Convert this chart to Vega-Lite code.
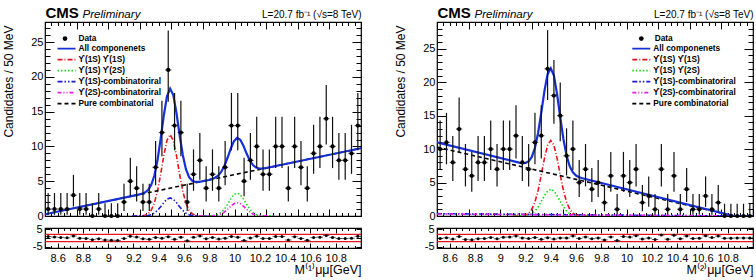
{
  "$schema": "https://vega.github.io/schema/vega-lite/v6.json",
  "padding": {"left": 1, "top": 4, "right": 0, "bottom": 0},
  "background": "white",
  "config": {
    "font": "Liberation Sans",
    "view": {"stroke": "black", "strokeWidth": 1.2},
    "axis": {"domain": false, "grid": false, "tickColor": "black", "tickWidth": 1, "labelFont": "Liberation Sans", "titleFont": "Liberation Sans", "labelColor": "black", "titleColor": "black", "titleFontWeight": "normal", "labelFontSize": 11},
    "legend": {"labelFont": "Liberation Sans", "labelColor": "black"}
  },
  "datasets": {
    "binsL": [
      {"m": 8.525, "n": 1, "lo": 0.17, "hi": 3.3, "p": 0.78},
      {"m": 8.575, "n": 1, "lo": 0.17, "hi": 3.3, "p": 0.55},
      {"m": 8.625, "n": 1, "lo": 0.17, "hi": 3.3, "p": 0.33},
      {"m": 8.675, "n": 1, "lo": 0.17, "hi": 3.3, "p": 0.1},
      {"m": 8.725, "n": 3, "lo": 1.37, "hi": 5.92, "p": 1.16},
      {"m": 8.775, "n": 1, "lo": 0.17, "hi": 3.3, "p": -0.13},
      {"m": 8.825, "n": 1, "lo": 0.17, "hi": 3.3, "p": -0.21},
      {"m": 8.875, "n": 0, "lo": 0, "hi": 1.84, "p": -0.91},
      {"m": 8.925, "n": 1, "lo": 0.17, "hi": 3.3, "p": -0.38},
      {"m": 8.975, "n": 0, "lo": 0, "hi": 1.84, "p": -1.12},
      {"m": 9.025, "n": 0, "lo": 0, "hi": 1.84, "p": -1.22},
      {"m": 9.075, "n": 0, "lo": 0, "hi": 1.84, "p": -1.33},
      {"m": 9.125, "n": 2, "lo": 0.71, "hi": 4.64, "p": -0.24},
      {"m": 9.175, "n": 5, "lo": 2.84, "hi": 8.38, "p": 1.01},
      {"m": 9.225, "n": 4, "lo": 2.09, "hi": 7.16, "p": 0.52},
      {"m": 9.275, "n": 2, "lo": 0.71, "hi": 4.64, "p": -0.45},
      {"m": 9.325, "n": 2, "lo": 0.71, "hi": 4.64, "p": -0.74},
      {"m": 9.375, "n": 7, "lo": 4.42, "hi": 10.77, "p": 0.27},
      {"m": 9.425, "n": 12, "lo": 8.58, "hi": 16.56, "p": -0.09},
      {"m": 9.475, "n": 21, "lo": 16.44, "hi": 26.66, "p": 0.68},
      {"m": 9.525, "n": 13, "lo": 9.44, "hi": 17.7, "p": -0.74},
      {"m": 9.575, "n": 12, "lo": 8.58, "hi": 16.56, "p": 0.47},
      {"m": 9.625, "n": 2, "lo": 0.71, "hi": 4.64, "p": -1.59},
      {"m": 9.675, "n": 6, "lo": 3.62, "hi": 9.58, "p": 0.42},
      {"m": 9.725, "n": 8, "lo": 5.23, "hi": 11.95, "p": 1.12},
      {"m": 9.775, "n": 4, "lo": 2.09, "hi": 7.16, "p": -0.35},
      {"m": 9.825, "n": 6, "lo": 3.62, "hi": 9.58, "p": 0.27},
      {"m": 9.875, "n": 4, "lo": 2.09, "hi": 7.16, "p": -0.6},
      {"m": 9.925, "n": 7, "lo": 4.42, "hi": 10.77, "p": -0.13},
      {"m": 9.975, "n": 13, "lo": 9.44, "hi": 17.7, "p": 0.86},
      {"m": 10.025, "n": 13, "lo": 9.44, "hi": 17.7, "p": 0.49},
      {"m": 10.075, "n": 5, "lo": 2.84, "hi": 8.38, "p": -1.45},
      {"m": 10.125, "n": 8, "lo": 5.23, "hi": 11.95, "p": 0.07},
      {"m": 10.175, "n": 10, "lo": 6.89, "hi": 14.27, "p": 1.0},
      {"m": 10.225, "n": 6, "lo": 3.62, "hi": 9.58, "p": -0.23},
      {"m": 10.275, "n": 6, "lo": 3.62, "hi": 9.58, "p": -0.28},
      {"m": 10.325, "n": 10, "lo": 6.89, "hi": 14.27, "p": 0.9},
      {"m": 10.375, "n": 10, "lo": 6.89, "hi": 14.27, "p": 0.84},
      {"m": 10.425, "n": 4, "lo": 2.09, "hi": 7.16, "p": -1.13},
      {"m": 10.475, "n": 10, "lo": 6.89, "hi": 14.27, "p": 0.72},
      {"m": 10.525, "n": 7, "lo": 4.42, "hi": 10.77, "p": -0.25},
      {"m": 10.575, "n": 4, "lo": 2.09, "hi": 7.16, "p": -1.31},
      {"m": 10.625, "n": 9, "lo": 6.06, "hi": 13.11, "p": 0.23},
      {"m": 10.675, "n": 10, "lo": 6.89, "hi": 14.27, "p": 0.48},
      {"m": 10.725, "n": 14, "lo": 10.3, "hi": 18.83, "p": 1.43},
      {"m": 10.775, "n": 10, "lo": 6.89, "hi": 14.27, "p": 0.35},
      {"m": 10.825, "n": 8, "lo": 5.23, "hi": 11.95, "p": -0.28},
      {"m": 10.875, "n": 8, "lo": 5.23, "hi": 11.95, "p": -0.32},
      {"m": 10.925, "n": 9, "lo": 6.06, "hi": 13.11, "p": -0.11},
      {"m": 10.975, "n": 13, "lo": 9.44, "hi": 17.7, "p": 0.94}
    ],
    "binsR": [
      {"m": 8.525, "n": 10, "lo": 6.89, "hi": 14.27, "p": -0.21},
      {"m": 8.575, "n": 11, "lo": 7.73, "hi": 15.42, "p": 0.11},
      {"m": 8.625, "n": 8, "lo": 5.23, "hi": 11.95, "p": -0.61},
      {"m": 8.675, "n": 13, "lo": 9.44, "hi": 17.7, "p": 0.79},
      {"m": 8.725, "n": 7, "lo": 4.42, "hi": 10.77, "p": -0.78},
      {"m": 8.775, "n": 6, "lo": 3.62, "hi": 9.58, "p": -1.04},
      {"m": 8.825, "n": 8, "lo": 5.23, "hi": 11.95, "p": -0.37},
      {"m": 8.875, "n": 8, "lo": 5.23, "hi": 11.95, "p": -0.32},
      {"m": 8.925, "n": 10, "lo": 6.89, "hi": 14.27, "p": 0.32},
      {"m": 8.975, "n": 7, "lo": 4.42, "hi": 10.77, "p": -0.47},
      {"m": 9.025, "n": 10, "lo": 6.89, "hi": 14.27, "p": 0.47},
      {"m": 9.075, "n": 10, "lo": 6.89, "hi": 14.27, "p": 0.54},
      {"m": 9.125, "n": 12, "lo": 8.58, "hi": 16.56, "p": 1.15},
      {"m": 9.175, "n": 8, "lo": 5.23, "hi": 11.95, "p": 0.04},
      {"m": 9.225, "n": 7, "lo": 4.42, "hi": 10.77, "p": -0.31},
      {"m": 9.275, "n": 11, "lo": 7.73, "hi": 15.42, "p": 0.24},
      {"m": 9.325, "n": 12, "lo": 8.58, "hi": 16.56, "p": -0.76},
      {"m": 9.375, "n": 22, "lo": 17.34, "hi": 27.77, "p": 0.17},
      {"m": 9.425, "n": 18, "lo": 13.79, "hi": 23.33, "p": -0.56},
      {"m": 9.475, "n": 15, "lo": 11.17, "hi": 19.96, "p": 0.06},
      {"m": 9.525, "n": 9, "lo": 6.06, "hi": 13.11, "p": -0.01},
      {"m": 9.575, "n": 10, "lo": 6.89, "hi": 14.27, "p": 1.12},
      {"m": 9.625, "n": 5, "lo": 2.84, "hi": 8.38, "p": -0.23},
      {"m": 9.675, "n": 7, "lo": 4.42, "hi": 10.77, "p": 0.58},
      {"m": 9.725, "n": 4, "lo": 2.09, "hi": 7.16, "p": -0.4},
      {"m": 9.775, "n": 5, "lo": 2.84, "hi": 8.38, "p": -0.01},
      {"m": 9.825, "n": 2, "lo": 0.71, "hi": 4.64, "p": -1.06},
      {"m": 9.875, "n": 6, "lo": 3.62, "hi": 9.58, "p": 0.61},
      {"m": 9.925, "n": 1, "lo": 0.17, "hi": 3.3, "p": -1.45},
      {"m": 9.975, "n": 6, "lo": 3.62, "hi": 9.58, "p": 0.8},
      {"m": 10.025, "n": 5, "lo": 2.84, "hi": 8.38, "p": 0.53},
      {"m": 10.075, "n": 7, "lo": 4.42, "hi": 10.77, "p": 1.31},
      {"m": 10.125, "n": 2, "lo": 0.71, "hi": 4.64, "p": -0.53},
      {"m": 10.175, "n": 3, "lo": 1.37, "hi": 5.92, "p": -0.05},
      {"m": 10.225, "n": 1, "lo": 0.17, "hi": 3.3, "p": -0.84},
      {"m": 10.275, "n": 7, "lo": 4.42, "hi": 10.77, "p": 1.67},
      {"m": 10.325, "n": 1, "lo": 0.17, "hi": 3.3, "p": -0.63},
      {"m": 10.375, "n": 6, "lo": 3.62, "hi": 9.58, "p": 1.59},
      {"m": 10.425, "n": 1, "lo": 0.17, "hi": 3.3, "p": -0.43},
      {"m": 10.475, "n": 4, "lo": 2.09, "hi": 7.16, "p": 1.17},
      {"m": 10.525, "n": 1, "lo": 0.17, "hi": 3.3, "p": -0.23},
      {"m": 10.575, "n": 1, "lo": 0.17, "hi": 3.3, "p": -0.13},
      {"m": 10.625, "n": 3, "lo": 1.37, "hi": 5.92, "p": 1.2},
      {"m": 10.675, "n": 1, "lo": 0.17, "hi": 3.3, "p": 0.22},
      {"m": 10.725, "n": 2, "lo": 0.71, "hi": 4.64, "p": 1.09},
      {"m": 10.775, "n": 0, "lo": 0, "hi": 1.84, "p": -0.19},
      {"m": 10.825, "n": 0, "lo": 0, "hi": 1.84, "p": -0.07},
      {"m": 10.875, "n": 0, "lo": 0, "hi": 1.84, "p": 0},
      {"m": 10.925, "n": 0, "lo": 0, "hi": 1.84, "p": 0},
      {"m": 10.975, "n": 0, "lo": 0, "hi": 1.84, "p": 0}
    ],
    "curvesL": [
      {"comp": "All componenets", "m": 8.5, "v": 0.25},
      {"comp": "All componenets", "m": 9.24, "v": 3.07},
      {"comp": "All componenets", "m": 9.265, "v": 3.2},
      {"comp": "All componenets", "m": 9.29, "v": 3.38},
      {"comp": "All componenets", "m": 9.315, "v": 3.74},
      {"comp": "All componenets", "m": 9.34, "v": 4.44},
      {"comp": "All componenets", "m": 9.365, "v": 5.79},
      {"comp": "All componenets", "m": 9.39, "v": 8.01},
      {"comp": "All componenets", "m": 9.415, "v": 11.08},
      {"comp": "All componenets", "m": 9.44, "v": 14.46},
      {"comp": "All componenets", "m": 9.465, "v": 17.2},
      {"comp": "All componenets", "m": 9.49, "v": 18.31},
      {"comp": "All componenets", "m": 9.515, "v": 17.39},
      {"comp": "All componenets", "m": 9.54, "v": 14.84},
      {"comp": "All componenets", "m": 9.565, "v": 11.65},
      {"comp": "All componenets", "m": 9.59, "v": 8.77},
      {"comp": "All componenets", "m": 9.615, "v": 6.74},
      {"comp": "All componenets", "m": 9.64, "v": 5.58},
      {"comp": "All componenets", "m": 9.665, "v": 5.07},
      {"comp": "All componenets", "m": 9.69, "v": 4.9},
      {"comp": "All componenets", "m": 9.715, "v": 4.91},
      {"comp": "All componenets", "m": 9.74, "v": 4.97},
      {"comp": "All componenets", "m": 9.77, "v": 5.08},
      {"comp": "All componenets", "m": 9.795, "v": 5.18},
      {"comp": "All componenets", "m": 9.82, "v": 5.32},
      {"comp": "All componenets", "m": 9.845, "v": 5.5},
      {"comp": "All componenets", "m": 9.87, "v": 5.82},
      {"comp": "All componenets", "m": 9.895, "v": 6.37},
      {"comp": "All componenets", "m": 9.92, "v": 7.24},
      {"comp": "All componenets", "m": 9.945, "v": 8.41},
      {"comp": "All componenets", "m": 9.97, "v": 9.71},
      {"comp": "All componenets", "m": 9.995, "v": 10.76},
      {"comp": "All componenets", "m": 10.02, "v": 11.23},
      {"comp": "All componenets", "m": 10.045, "v": 10.95},
      {"comp": "All componenets", "m": 10.07, "v": 10.09},
      {"comp": "All componenets", "m": 10.095, "v": 8.98},
      {"comp": "All componenets", "m": 10.12, "v": 8.0},
      {"comp": "All componenets", "m": 10.145, "v": 7.32},
      {"comp": "All componenets", "m": 10.17, "v": 6.96},
      {"comp": "All componenets", "m": 10.195, "v": 6.83},
      {"comp": "All componenets", "m": 10.22, "v": 6.84},
      {"comp": "All componenets", "m": 10.245, "v": 6.89},
      {"comp": "All componenets", "m": 10.27, "v": 6.98},
      {"comp": "All componenets", "m": 11.0, "v": 9.75},
      {"comp": "ϒ(1S) ϒ(1S)", "m": 9.19, "v": 0},
      {"comp": "ϒ(1S) ϒ(1S)", "m": 9.24, "v": 0.01},
      {"comp": "ϒ(1S) ϒ(1S)", "m": 9.265, "v": 0.03},
      {"comp": "ϒ(1S) ϒ(1S)", "m": 9.29, "v": 0.1},
      {"comp": "ϒ(1S) ϒ(1S)", "m": 9.315, "v": 0.32},
      {"comp": "ϒ(1S) ϒ(1S)", "m": 9.34, "v": 0.82},
      {"comp": "ϒ(1S) ϒ(1S)", "m": 9.365, "v": 1.84},
      {"comp": "ϒ(1S) ϒ(1S)", "m": 9.39, "v": 3.58},
      {"comp": "ϒ(1S) ϒ(1S)", "m": 9.415, "v": 6.01},
      {"comp": "ϒ(1S) ϒ(1S)", "m": 9.44, "v": 8.7},
      {"comp": "ϒ(1S) ϒ(1S)", "m": 9.465, "v": 10.87},
      {"comp": "ϒ(1S) ϒ(1S)", "m": 9.49, "v": 11.7},
      {"comp": "ϒ(1S) ϒ(1S)", "m": 9.515, "v": 10.87},
      {"comp": "ϒ(1S) ϒ(1S)", "m": 9.54, "v": 8.7},
      {"comp": "ϒ(1S) ϒ(1S)", "m": 9.565, "v": 6.01},
      {"comp": "ϒ(1S) ϒ(1S)", "m": 9.59, "v": 3.58},
      {"comp": "ϒ(1S) ϒ(1S)", "m": 9.615, "v": 1.84},
      {"comp": "ϒ(1S) ϒ(1S)", "m": 9.64, "v": 0.82},
      {"comp": "ϒ(1S) ϒ(1S)", "m": 9.665, "v": 0.32},
      {"comp": "ϒ(1S) ϒ(1S)", "m": 9.69, "v": 0.1},
      {"comp": "ϒ(1S) ϒ(1S)", "m": 9.715, "v": 0.03},
      {"comp": "ϒ(1S) ϒ(1S)", "m": 9.74, "v": 0.01},
      {"comp": "ϒ(1S) ϒ(1S)", "m": 9.79, "v": 0},
      {"comp": "ϒ(1S)-combinatoriral", "m": 9.19, "v": 0},
      {"comp": "ϒ(1S)-combinatoriral", "m": 9.265, "v": 0.01},
      {"comp": "ϒ(1S)-combinatoriral", "m": 9.29, "v": 0.02},
      {"comp": "ϒ(1S)-combinatoriral", "m": 9.315, "v": 0.07},
      {"comp": "ϒ(1S)-combinatoriral", "m": 9.34, "v": 0.18},
      {"comp": "ϒ(1S)-combinatoriral", "m": 9.365, "v": 0.41},
      {"comp": "ϒ(1S)-combinatoriral", "m": 9.39, "v": 0.8},
      {"comp": "ϒ(1S)-combinatoriral", "m": 9.415, "v": 1.34},
      {"comp": "ϒ(1S)-combinatoriral", "m": 9.44, "v": 1.93},
      {"comp": "ϒ(1S)-combinatoriral", "m": 9.465, "v": 2.42},
      {"comp": "ϒ(1S)-combinatoriral", "m": 9.49, "v": 2.6},
      {"comp": "ϒ(1S)-combinatoriral", "m": 9.515, "v": 2.42},
      {"comp": "ϒ(1S)-combinatoriral", "m": 9.54, "v": 1.93},
      {"comp": "ϒ(1S)-combinatoriral", "m": 9.565, "v": 1.34},
      {"comp": "ϒ(1S)-combinatoriral", "m": 9.59, "v": 0.8},
      {"comp": "ϒ(1S)-combinatoriral", "m": 9.615, "v": 0.41},
      {"comp": "ϒ(1S)-combinatoriral", "m": 9.64, "v": 0.18},
      {"comp": "ϒ(1S)-combinatoriral", "m": 9.665, "v": 0.07},
      {"comp": "ϒ(1S)-combinatoriral", "m": 9.69, "v": 0.02},
      {"comp": "ϒ(1S)-combinatoriral", "m": 9.715, "v": 0.01},
      {"comp": "ϒ(1S)-combinatoriral", "m": 9.79, "v": 0},
      {"comp": "ϒ(1S) ϒ(2S)", "m": 9.72, "v": 0},
      {"comp": "ϒ(1S) ϒ(2S)", "m": 9.795, "v": 0.01},
      {"comp": "ϒ(1S) ϒ(2S)", "m": 9.82, "v": 0.03},
      {"comp": "ϒ(1S) ϒ(2S)", "m": 9.845, "v": 0.09},
      {"comp": "ϒ(1S) ϒ(2S)", "m": 9.87, "v": 0.23},
      {"comp": "ϒ(1S) ϒ(2S)", "m": 9.895, "v": 0.52},
      {"comp": "ϒ(1S) ϒ(2S)", "m": 9.92, "v": 1.01},
      {"comp": "ϒ(1S) ϒ(2S)", "m": 9.945, "v": 1.7},
      {"comp": "ϒ(1S) ϒ(2S)", "m": 9.97, "v": 2.46},
      {"comp": "ϒ(1S) ϒ(2S)", "m": 9.995, "v": 3.07},
      {"comp": "ϒ(1S) ϒ(2S)", "m": 10.02, "v": 3.3},
      {"comp": "ϒ(1S) ϒ(2S)", "m": 10.045, "v": 3.07},
      {"comp": "ϒ(1S) ϒ(2S)", "m": 10.07, "v": 2.46},
      {"comp": "ϒ(1S) ϒ(2S)", "m": 10.095, "v": 1.7},
      {"comp": "ϒ(1S) ϒ(2S)", "m": 10.12, "v": 1.01},
      {"comp": "ϒ(1S) ϒ(2S)", "m": 10.145, "v": 0.52},
      {"comp": "ϒ(1S) ϒ(2S)", "m": 10.17, "v": 0.23},
      {"comp": "ϒ(1S) ϒ(2S)", "m": 10.195, "v": 0.09},
      {"comp": "ϒ(1S) ϒ(2S)", "m": 10.22, "v": 0.03},
      {"comp": "ϒ(1S) ϒ(2S)", "m": 10.245, "v": 0.01},
      {"comp": "ϒ(1S) ϒ(2S)", "m": 10.32, "v": 0},
      {"comp": "ϒ(2S)-combinatoriral", "m": 9.72, "v": 0},
      {"comp": "ϒ(2S)-combinatoriral", "m": 9.82, "v": 0.02},
      {"comp": "ϒ(2S)-combinatoriral", "m": 9.845, "v": 0.05},
      {"comp": "ϒ(2S)-combinatoriral", "m": 9.87, "v": 0.13},
      {"comp": "ϒ(2S)-combinatoriral", "m": 9.895, "v": 0.3},
      {"comp": "ϒ(2S)-combinatoriral", "m": 9.92, "v": 0.58},
      {"comp": "ϒ(2S)-combinatoriral", "m": 9.945, "v": 0.98},
      {"comp": "ϒ(2S)-combinatoriral", "m": 9.97, "v": 1.41},
      {"comp": "ϒ(2S)-combinatoriral", "m": 9.995, "v": 1.77},
      {"comp": "ϒ(2S)-combinatoriral", "m": 10.02, "v": 1.9},
      {"comp": "ϒ(2S)-combinatoriral", "m": 10.045, "v": 1.77},
      {"comp": "ϒ(2S)-combinatoriral", "m": 10.07, "v": 1.41},
      {"comp": "ϒ(2S)-combinatoriral", "m": 10.095, "v": 0.98},
      {"comp": "ϒ(2S)-combinatoriral", "m": 10.12, "v": 0.58},
      {"comp": "ϒ(2S)-combinatoriral", "m": 10.145, "v": 0.3},
      {"comp": "ϒ(2S)-combinatoriral", "m": 10.17, "v": 0.13},
      {"comp": "ϒ(2S)-combinatoriral", "m": 10.195, "v": 0.05},
      {"comp": "ϒ(2S)-combinatoriral", "m": 10.22, "v": 0.02},
      {"comp": "ϒ(2S)-combinatoriral", "m": 10.32, "v": 0},
      {"comp": "Pure combinatorial", "m": 8.5, "v": 0.25},
      {"comp": "Pure combinatorial", "m": 11.0, "v": 9.75}
    ],
    "curvesR": [
      {"comp": "All componenets", "m": 8.5, "v": 11.0},
      {"comp": "All componenets", "m": 9.15, "v": 7.98},
      {"comp": "All componenets", "m": 9.175, "v": 7.9},
      {"comp": "All componenets", "m": 9.2, "v": 7.92},
      {"comp": "All componenets", "m": 9.225, "v": 8.17},
      {"comp": "All componenets", "m": 9.25, "v": 8.83},
      {"comp": "All componenets", "m": 9.275, "v": 10.2},
      {"comp": "All componenets", "m": 9.3, "v": 12.45},
      {"comp": "All componenets", "m": 9.325, "v": 15.46},
      {"comp": "All componenets", "m": 9.35, "v": 18.69},
      {"comp": "All componenets", "m": 9.375, "v": 21.21},
      {"comp": "All componenets", "m": 9.4, "v": 22.09},
      {"comp": "All componenets", "m": 9.425, "v": 20.98},
      {"comp": "All componenets", "m": 9.45, "v": 18.22},
      {"comp": "All componenets", "m": 9.475, "v": 14.76},
      {"comp": "All componenets", "m": 9.5, "v": 11.51},
      {"comp": "All componenets", "m": 9.525, "v": 9.03},
      {"comp": "All componenets", "m": 9.55, "v": 7.43},
      {"comp": "All componenets", "m": 9.575, "v": 6.53},
      {"comp": "All componenets", "m": 9.6, "v": 6.05},
      {"comp": "All componenets", "m": 9.625, "v": 5.79},
      {"comp": "All componenets", "m": 9.65, "v": 5.64},
      {"comp": "All componenets", "m": 10.85, "v": 0},
      {"comp": "All componenets", "m": 11.0, "v": 0},
      {"comp": "ϒ(1S) ϒ(1S)", "m": 9.1, "v": 0},
      {"comp": "ϒ(1S) ϒ(1S)", "m": 9.15, "v": 0.01},
      {"comp": "ϒ(1S) ϒ(1S)", "m": 9.175, "v": 0.05},
      {"comp": "ϒ(1S) ϒ(1S)", "m": 9.2, "v": 0.15},
      {"comp": "ϒ(1S) ϒ(1S)", "m": 9.225, "v": 0.41},
      {"comp": "ϒ(1S) ϒ(1S)", "m": 9.25, "v": 0.99},
      {"comp": "ϒ(1S) ϒ(1S)", "m": 9.275, "v": 2.09},
      {"comp": "ϒ(1S) ϒ(1S)", "m": 9.3, "v": 3.83},
      {"comp": "ϒ(1S) ϒ(1S)", "m": 9.325, "v": 6.15},
      {"comp": "ϒ(1S) ϒ(1S)", "m": 9.35, "v": 8.62},
      {"comp": "ϒ(1S) ϒ(1S)", "m": 9.375, "v": 10.57},
      {"comp": "ϒ(1S) ϒ(1S)", "m": 9.4, "v": 11.3},
      {"comp": "ϒ(1S) ϒ(1S)", "m": 9.425, "v": 10.57},
      {"comp": "ϒ(1S) ϒ(1S)", "m": 9.45, "v": 8.62},
      {"comp": "ϒ(1S) ϒ(1S)", "m": 9.475, "v": 6.15},
      {"comp": "ϒ(1S) ϒ(1S)", "m": 9.5, "v": 3.83},
      {"comp": "ϒ(1S) ϒ(1S)", "m": 9.525, "v": 2.09},
      {"comp": "ϒ(1S) ϒ(1S)", "m": 9.55, "v": 0.99},
      {"comp": "ϒ(1S) ϒ(1S)", "m": 9.575, "v": 0.41},
      {"comp": "ϒ(1S) ϒ(1S)", "m": 9.6, "v": 0.15},
      {"comp": "ϒ(1S) ϒ(1S)", "m": 9.625, "v": 0.05},
      {"comp": "ϒ(1S) ϒ(1S)", "m": 9.65, "v": 0.01},
      {"comp": "ϒ(1S) ϒ(1S)", "m": 9.7, "v": 0},
      {"comp": "ϒ(1S) ϒ(2S)", "m": 9.1, "v": 0},
      {"comp": "ϒ(1S) ϒ(2S)", "m": 9.175, "v": 0.02},
      {"comp": "ϒ(1S) ϒ(2S)", "m": 9.2, "v": 0.05},
      {"comp": "ϒ(1S) ϒ(2S)", "m": 9.225, "v": 0.15},
      {"comp": "ϒ(1S) ϒ(2S)", "m": 9.25, "v": 0.35},
      {"comp": "ϒ(1S) ϒ(2S)", "m": 9.275, "v": 0.74},
      {"comp": "ϒ(1S) ϒ(2S)", "m": 9.3, "v": 1.36},
      {"comp": "ϒ(1S) ϒ(2S)", "m": 9.325, "v": 2.18},
      {"comp": "ϒ(1S) ϒ(2S)", "m": 9.35, "v": 3.05},
      {"comp": "ϒ(1S) ϒ(2S)", "m": 9.375, "v": 3.74},
      {"comp": "ϒ(1S) ϒ(2S)", "m": 9.4, "v": 4.0},
      {"comp": "ϒ(1S) ϒ(2S)", "m": 9.425, "v": 3.74},
      {"comp": "ϒ(1S) ϒ(2S)", "m": 9.45, "v": 3.05},
      {"comp": "ϒ(1S) ϒ(2S)", "m": 9.475, "v": 2.18},
      {"comp": "ϒ(1S) ϒ(2S)", "m": 9.5, "v": 1.36},
      {"comp": "ϒ(1S) ϒ(2S)", "m": 9.525, "v": 0.74},
      {"comp": "ϒ(1S) ϒ(2S)", "m": 9.55, "v": 0.35},
      {"comp": "ϒ(1S) ϒ(2S)", "m": 9.575, "v": 0.15},
      {"comp": "ϒ(1S) ϒ(2S)", "m": 9.6, "v": 0.05},
      {"comp": "ϒ(1S) ϒ(2S)", "m": 9.625, "v": 0.02},
      {"comp": "ϒ(1S) ϒ(2S)", "m": 9.7, "v": 0},
      {"comp": "ϒ(1S)-combinatoriral", "m": 8.5, "v": 0.35},
      {"comp": "ϒ(1S)-combinatoriral", "m": 10.85, "v": 0},
      {"comp": "ϒ(1S)-combinatoriral", "m": 11.0, "v": 0},
      {"comp": "ϒ(2S)-combinatoriral", "m": 8.5, "v": 0.3},
      {"comp": "ϒ(2S)-combinatoriral", "m": 10.85, "v": 0},
      {"comp": "ϒ(2S)-combinatoriral", "m": 11.0, "v": 0},
      {"comp": "Pure combinatorial", "m": 8.5, "v": 10.3},
      {"comp": "Pure combinatorial", "m": 10.85, "v": 0},
      {"comp": "Pure combinatorial", "m": 11.0, "v": 0}
    ]
  },
  "hconcat": [
    {
      "vconcat": [
        {
          "width": 316, "height": 194,
          "layer": [
            {
              "data": {"name": "curvesL"},
              "transform": [{"filter": "datum.comp !== 'All componenets'"}],
              "mark": {"type": "line", "strokeWidth": 1.6, "clip": true},
              "encoding": {
                "x": {"field": "m", "type": "quantitative", "scale": {"domain": [8.5, 11], "nice": false, "zero": false},
                  "axis": {"orient": "bottom", "values": [8.5, 8.75, 9, 9.25, 9.5, 9.75, 10, 10.25, 10.5, 10.75, 11], "tickSize": -7, "labels": false, "title": null}},
                "y": {"field": "v", "type": "quantitative", "scale": {"domain": [0, 27.9], "nice": false},
                  "axis": {"orient": "left", "values": [0, 5, 10, 15, 20, 25], "tickSize": -9, "labelPadding": 11, "labelFontSize": 11,
                    "title": "Candidates / 50 MeV", "titleFontSize": 12, "titleX": -37, "titleY": 3, "titleAngle": -90, "titleAlign": "right", "titleBaseline": "middle"}},
                "color": {"field": "comp", "type": "nominal",
                  "scale": {"domain": ["All componenets", "ϒ(1S) ϒ(1S)", "ϒ(1S) ϒ(2S)", "ϒ(1S)-combinatoriral", "ϒ(2S)-combinatoriral", "Pure combinatorial"],
                    "range": ["#1530d8", "#e8141a", "#18d818", "#1a1ad0", "#e81ae8", "#000000"]},
                  "legend": {"title": null, "orient": "none", "legendX": 11.5, "legendY": 21.6, "clipHeight": 10, "rowPadding": 1, "padding": 0,
                    "symbolType": "stroke", "symbolSize": 324, "symbolStrokeWidth": 1.6, "labelFontSize": 8.3, "labelFontWeight": "bold", "labelOffset": 2}},
                "strokeDash": {"field": "comp", "type": "nominal",
                  "scale": {"domain": ["All componenets", "ϒ(1S) ϒ(1S)", "ϒ(1S) ϒ(2S)", "ϒ(1S)-combinatoriral", "ϒ(2S)-combinatoriral", "Pure combinatorial"],
                    "range": [[1, 0], [5, 2, 1, 2], [1.5, 2], [5, 2, 1.5, 2, 1.5, 2], [4, 2, 1, 2, 1, 2], [4, 3]]},
                  "legend": {"title": null, "orient": "none", "legendX": 11.5, "legendY": 21.6, "clipHeight": 10, "rowPadding": 1, "padding": 0,
                    "symbolType": "stroke", "symbolSize": 324, "symbolStrokeWidth": 1.6, "labelFontSize": 8.3, "labelFontWeight": "bold", "labelOffset": 2}}
              }
            },
            {
              "data": {"name": "curvesL"},
              "transform": [{"filter": "datum.comp === 'All componenets'"}],
              "mark": {"type": "line", "strokeWidth": 2.2, "color": "#1530d8", "clip": true},
              "encoding": {
                "x": {"field": "m", "type": "quantitative",
                  "axis": {"orient": "bottom", "values": [8.5, 8.55, 8.6, 8.65, 8.7, 8.75, 8.8, 8.85, 8.9, 8.95, 9, 9.05, 9.1, 9.15, 9.2, 9.25, 9.3, 9.35, 9.4, 9.45, 9.5, 9.55, 9.6, 9.65, 9.7, 9.75, 9.8, 9.85, 9.9, 9.95, 10, 10.05, 10.1, 10.15, 10.2, 10.25, 10.3, 10.35, 10.4, 10.45, 10.5, 10.55, 10.6, 10.65, 10.7, 10.75, 10.8, 10.85, 10.9, 10.95, 11], "tickSize": -3.5, "labels": false, "title": null}},
                "y": {"field": "v", "type": "quantitative",
                  "axis": {"orient": "left", "values": [1, 2, 3, 4, 6, 7, 8, 9, 11, 12, 13, 14, 16, 17, 18, 19, 21, 22, 23, 24, 26, 27], "tickSize": -5, "labels": false, "title": null}}
              }
            },
            {
              "data": {"name": "binsL"},
              "mark": {"type": "rule", "color": "#111111", "strokeWidth": 1.2},
              "encoding": {
                "x": {"field": "m", "type": "quantitative",
                  "axis": {"orient": "top", "values": [8.5, 8.75, 9, 9.25, 9.5, 9.75, 10, 10.25, 10.5, 10.75, 11], "tickSize": -7, "labels": false,
                    "title": "CMS", "titleFontSize": 15, "titleFontWeight": "bold", "titleX": 0, "titleY": -5, "titleAlign": "left", "titleBaseline": "alphabetic", "titleAngle": 0}},
                "y": {"field": "lo", "type": "quantitative",
                  "axis": {"orient": "right", "values": [0, 5, 10, 15, 20, 25], "tickSize": -9, "labels": false,
                    "title": "L=20.7 fb⁻¹ (√s=8 TeV)", "titleFontSize": 10, "titleX": 0, "titleY": -5, "titleAngle": 0, "titleAlign": "right", "titleBaseline": "alphabetic"}},
                "y2": {"field": "hi"}
              }
            },
            {
              "data": {"name": "binsL"},
              "mark": {"type": "tick", "orient": "horizontal", "size": 6.3, "thickness": 1.2, "color": "#111111"},
              "encoding": {
                "x": {"field": "m", "type": "quantitative",
                  "axis": {"orient": "top", "values": [8.5, 8.55, 8.6, 8.65, 8.7, 8.75, 8.8, 8.85, 8.9, 8.95, 9, 9.05, 9.1, 9.15, 9.2, 9.25, 9.3, 9.35, 9.4, 9.45, 9.5, 9.55, 9.6, 9.65, 9.7, 9.75, 9.8, 9.85, 9.9, 9.95, 10, 10.05, 10.1, 10.15, 10.2, 10.25, 10.3, 10.35, 10.4, 10.45, 10.5, 10.55, 10.6, 10.65, 10.7, 10.75, 10.8, 10.85, 10.9, 10.95, 11], "tickSize": -3.5, "labels": false,
                    "title": "Preliminary", "titleFontSize": 11.6, "titleFontStyle": "italic", "titleX": 37, "titleY": -5, "titleAlign": "left", "titleBaseline": "alphabetic", "titleAngle": 0}},
                "y": {"field": "n", "type": "quantitative",
                  "axis": {"orient": "right", "values": [1, 2, 3, 4, 6, 7, 8, 9, 11, 12, 13, 14, 16, 17, 18, 19, 21, 22, 23, 24, 26, 27], "tickSize": -5, "labels": false, "title": null}}
              }
            },
            {
              "data": {"name": "binsL"},
              "mark": {"type": "point", "filled": true, "size": 18, "color": "black", "opacity": 1},
              "encoding": {
                "x": {"field": "m", "type": "quantitative", "axis": null},
                "y": {"field": "n", "type": "quantitative", "axis": null},
                "shape": {"datum": "Data", "type": "nominal", "scale": {"domain": ["Data"], "range": ["circle"]},
                  "legend": {"title": null, "orient": "none", "legendX": 15.85, "legendY": 11.6, "clipHeight": 10, "padding": 0,
                    "symbolSize": 22, "symbolFillColor": "black", "symbolStrokeColor": "black", "symbolStrokeWidth": 0,
                    "labelFontSize": 8.3, "labelFontWeight": "bold", "labelOffset": 9.3}}
              }
            }
          ],
          "resolve": {"axis": {"x": "independent", "y": "independent"}}
        },
        {
          "width": 316, "height": 20,
          "layer": [
            {
              "data": {"values": [{"ref": 2}]},
              "mark": {"type": "rule", "color": "#e8141a", "strokeWidth": 1.2},
              "encoding": {
                "x": {"datum": 8.5, "type": "quantitative", "scale": {"domain": [8.5, 11], "nice": false, "zero": false},
                  "axis": {"orient": "bottom", "values": [8.6, 8.8, 9, 9.2, 9.4, 9.6, 9.8, 10, 10.2, 10.4, 10.6, 10.8], "tickSize": -5, "labelPadding": 9, "labelFontSize": 11, "labelExpr": "'' + datum.value",
                    "title": "M⁽¹⁾μμ[GeV]", "titleFontSize": 12.5, "titleX": 316, "titleY": 25, "titleAlign": "right", "titleBaseline": "alphabetic", "titleAngle": 0}},
                "x2": {"datum": 11},
                "y": {"field": "ref", "type": "quantitative", "scale": {"domain": [-5.6, 5.6], "nice": false},
                  "axis": {"orient": "left", "values": [-5, 0, 5], "tickSize": -5, "labelPadding": 8, "labelFontSize": 11, "labelExpr": "'' + datum.value", "title": null}}
              }
            },
            {
              "data": {"values": [{"ref": -2}]},
              "mark": {"type": "rule", "color": "#e8141a", "strokeWidth": 1.2},
              "encoding": {
                "x": {"datum": 8.5, "type": "quantitative",
                  "axis": {"orient": "bottom", "values": [8.5, 8.55, 8.65, 8.7, 8.75, 8.85, 8.9, 8.95, 9.05, 9.1, 9.15, 9.25, 9.3, 9.35, 9.45, 9.5, 9.55, 9.65, 9.7, 9.75, 9.85, 9.9, 9.95, 10.05, 10.1, 10.15, 10.25, 10.3, 10.35, 10.45, 10.5, 10.55, 10.65, 10.7, 10.75, 10.85, 10.9, 10.95], "tickSize": -2.5, "labels": false, "title": null}},
                "x2": {"datum": 11},
                "y": {"field": "ref", "type": "quantitative",
                  "axis": {"orient": "right", "values": [-5, 0, 5], "tickSize": -5, "labels": false, "title": null}}
              }
            },
            {
              "data": {"name": "binsL"},
              "mark": {"type": "tick", "orient": "horizontal", "size": 6.3, "thickness": 1, "color": "#111111"},
              "encoding": {
                "x": {"field": "m", "type": "quantitative",
                  "axis": {"orient": "top", "values": [8.6, 8.8, 9, 9.2, 9.4, 9.6, 9.8, 10, 10.2, 10.4, 10.6, 10.8], "tickSize": -5, "labels": false, "title": null}},
                "y": {"field": "p", "type": "quantitative", "axis": null}
              }
            },
            {
              "data": {"name": "binsL"},
              "mark": {"type": "point", "filled": true, "size": 9, "color": "black", "opacity": 1},
              "encoding": {
                "x": {"field": "m", "type": "quantitative",
                  "axis": {"orient": "top", "values": [8.5, 8.55, 8.65, 8.7, 8.75, 8.85, 8.9, 8.95, 9.05, 9.1, 9.15, 9.25, 9.3, 9.35, 9.45, 9.5, 9.55, 9.65, 9.7, 9.75, 9.85, 9.9, 9.95, 10.05, 10.1, 10.15, 10.25, 10.3, 10.35, 10.45, 10.5, 10.55, 10.65, 10.7, 10.75, 10.85, 10.9, 10.95], "tickSize": -2.5, "labels": false, "title": null}},
                "y": {"field": "p", "type": "quantitative", "axis": null}
              }
            }
          ],
          "resolve": {"axis": {"x": "independent", "y": "independent"}}
        }
      ],
      "spacing": 0,
      "resolve": {"scale": {"color": "independent", "strokeDash": "independent", "shape": "independent"}}
    },
    {
      "vconcat": [
        {
          "width": 316, "height": 194,
          "layer": [
            {
              "data": {"name": "curvesR"},
              "transform": [{"filter": "datum.comp !== 'All componenets'"}],
              "mark": {"type": "line", "strokeWidth": 1.6, "clip": true},
              "encoding": {
                "x": {"field": "m", "type": "quantitative", "scale": {"domain": [8.5, 11], "nice": false, "zero": false},
                  "axis": {"orient": "bottom", "values": [8.5, 8.75, 9, 9.25, 9.5, 9.75, 10, 10.25, 10.5, 10.75, 11], "tickSize": -7, "labels": false, "title": null}},
                "y": {"field": "v", "type": "quantitative", "scale": {"domain": [0, 29], "nice": false},
                  "axis": {"orient": "left", "values": [0, 5, 10, 15, 20, 25], "tickSize": -9, "labelPadding": 11, "labelFontSize": 11,
                    "title": "Candidates / 50 MeV", "titleFontSize": 12, "titleX": -37, "titleY": 3, "titleAngle": -90, "titleAlign": "right", "titleBaseline": "middle"}},
                "color": {"field": "comp", "type": "nominal",
                  "scale": {"domain": ["All componenets", "ϒ(1S) ϒ(1S)", "ϒ(1S) ϒ(2S)", "ϒ(1S)-combinatoriral", "ϒ(2S)-combinatoriral", "Pure combinatorial"],
                    "range": ["#1530d8", "#e8141a", "#18d818", "#1a1ad0", "#e81ae8", "#000000"]},
                  "legend": {"title": null, "orient": "none", "legendX": 194.3, "legendY": 21.6, "clipHeight": 10, "rowPadding": 1, "padding": 0,
                    "symbolType": "stroke", "symbolSize": 324, "symbolStrokeWidth": 1.6, "labelFontSize": 8.3, "labelFontWeight": "bold", "labelOffset": 2}},
                "strokeDash": {"field": "comp", "type": "nominal",
                  "scale": {"domain": ["All componenets", "ϒ(1S) ϒ(1S)", "ϒ(1S) ϒ(2S)", "ϒ(1S)-combinatoriral", "ϒ(2S)-combinatoriral", "Pure combinatorial"],
                    "range": [[1, 0], [5, 2, 1, 2], [1.5, 2], [5, 2, 1.5, 2, 1.5, 2], [4, 2, 1, 2, 1, 2], [4, 3]]},
                  "legend": {"title": null, "orient": "none", "legendX": 194.3, "legendY": 21.6, "clipHeight": 10, "rowPadding": 1, "padding": 0,
                    "symbolType": "stroke", "symbolSize": 324, "symbolStrokeWidth": 1.6, "labelFontSize": 8.3, "labelFontWeight": "bold", "labelOffset": 2}}
              }
            },
            {
              "data": {"name": "curvesR"},
              "transform": [{"filter": "datum.comp === 'All componenets'"}],
              "mark": {"type": "line", "strokeWidth": 2.2, "color": "#1530d8", "clip": true},
              "encoding": {
                "x": {"field": "m", "type": "quantitative",
                  "axis": {"orient": "bottom", "values": [8.5, 8.55, 8.6, 8.65, 8.7, 8.75, 8.8, 8.85, 8.9, 8.95, 9, 9.05, 9.1, 9.15, 9.2, 9.25, 9.3, 9.35, 9.4, 9.45, 9.5, 9.55, 9.6, 9.65, 9.7, 9.75, 9.8, 9.85, 9.9, 9.95, 10, 10.05, 10.1, 10.15, 10.2, 10.25, 10.3, 10.35, 10.4, 10.45, 10.5, 10.55, 10.6, 10.65, 10.7, 10.75, 10.8, 10.85, 10.9, 10.95, 11], "tickSize": -3.5, "labels": false, "title": null}},
                "y": {"field": "v", "type": "quantitative",
                  "axis": {"orient": "left", "values": [1, 2, 3, 4, 6, 7, 8, 9, 11, 12, 13, 14, 16, 17, 18, 19, 21, 22, 23, 24, 26, 27, 28], "tickSize": -5, "labels": false, "title": null}}
              }
            },
            {
              "data": {"name": "binsR"},
              "mark": {"type": "rule", "color": "#111111", "strokeWidth": 1.2},
              "encoding": {
                "x": {"field": "m", "type": "quantitative",
                  "axis": {"orient": "top", "values": [8.5, 8.75, 9, 9.25, 9.5, 9.75, 10, 10.25, 10.5, 10.75, 11], "tickSize": -7, "labels": false,
                    "title": "CMS", "titleFontSize": 15, "titleFontWeight": "bold", "titleX": 0, "titleY": -5, "titleAlign": "left", "titleBaseline": "alphabetic", "titleAngle": 0}},
                "y": {"field": "lo", "type": "quantitative",
                  "axis": {"orient": "right", "values": [0, 5, 10, 15, 20, 25], "tickSize": -9, "labels": false,
                    "title": "L=20.7 fb⁻¹ (√s=8 TeV)", "titleFontSize": 10, "titleX": 0, "titleY": -5, "titleAngle": 0, "titleAlign": "right", "titleBaseline": "alphabetic"}},
                "y2": {"field": "hi"}
              }
            },
            {
              "data": {"name": "binsR"},
              "mark": {"type": "tick", "orient": "horizontal", "size": 6.3, "thickness": 1.2, "color": "#111111"},
              "encoding": {
                "x": {"field": "m", "type": "quantitative",
                  "axis": {"orient": "top", "values": [8.5, 8.55, 8.6, 8.65, 8.7, 8.75, 8.8, 8.85, 8.9, 8.95, 9, 9.05, 9.1, 9.15, 9.2, 9.25, 9.3, 9.35, 9.4, 9.45, 9.5, 9.55, 9.6, 9.65, 9.7, 9.75, 9.8, 9.85, 9.9, 9.95, 10, 10.05, 10.1, 10.15, 10.2, 10.25, 10.3, 10.35, 10.4, 10.45, 10.5, 10.55, 10.6, 10.65, 10.7, 10.75, 10.8, 10.85, 10.9, 10.95, 11], "tickSize": -3.5, "labels": false,
                    "title": "Preliminary", "titleFontSize": 11.6, "titleFontStyle": "italic", "titleX": 37, "titleY": -5, "titleAlign": "left", "titleBaseline": "alphabetic", "titleAngle": 0}},
                "y": {"field": "n", "type": "quantitative",
                  "axis": {"orient": "right", "values": [1, 2, 3, 4, 6, 7, 8, 9, 11, 12, 13, 14, 16, 17, 18, 19, 21, 22, 23, 24, 26, 27, 28], "tickSize": -5, "labels": false, "title": null}}
              }
            },
            {
              "data": {"name": "binsR"},
              "mark": {"type": "point", "filled": true, "size": 18, "color": "black", "opacity": 1},
              "encoding": {
                "x": {"field": "m", "type": "quantitative", "axis": null},
                "y": {"field": "n", "type": "quantitative", "axis": null},
                "shape": {"datum": "Data", "type": "nominal", "scale": {"domain": ["Data"], "range": ["circle"]},
                  "legend": {"title": null, "orient": "none", "legendX": 200.15, "legendY": 11.6, "clipHeight": 10, "padding": 0,
                    "symbolSize": 22, "symbolFillColor": "black", "symbolStrokeColor": "black", "symbolStrokeWidth": 0,
                    "labelFontSize": 8.3, "labelFontWeight": "bold", "labelOffset": 9.3}}
              }
            }
          ],
          "resolve": {"axis": {"x": "independent", "y": "independent"}}
        },
        {
          "width": 316, "height": 20,
          "layer": [
            {
              "data": {"values": [{"ref": 2}]},
              "mark": {"type": "rule", "color": "#e8141a", "strokeWidth": 1.2},
              "encoding": {
                "x": {"datum": 8.5, "type": "quantitative", "scale": {"domain": [8.5, 11], "nice": false, "zero": false},
                  "axis": {"orient": "bottom", "values": [8.6, 8.8, 9, 9.2, 9.4, 9.6, 9.8, 10, 10.2, 10.4, 10.6, 10.8], "tickSize": -5, "labelPadding": 9, "labelFontSize": 11, "labelExpr": "'' + datum.value",
                    "title": "M⁽²⁾μμ[GeV]", "titleFontSize": 12.5, "titleX": 316, "titleY": 25, "titleAlign": "right", "titleBaseline": "alphabetic", "titleAngle": 0}},
                "x2": {"datum": 11},
                "y": {"field": "ref", "type": "quantitative", "scale": {"domain": [-5.6, 5.6], "nice": false},
                  "axis": {"orient": "left", "values": [-5, 0, 5], "tickSize": -5, "labelPadding": 8, "labelFontSize": 11, "labelExpr": "'' + datum.value", "title": null}}
              }
            },
            {
              "data": {"values": [{"ref": -2}]},
              "mark": {"type": "rule", "color": "#e8141a", "strokeWidth": 1.2},
              "encoding": {
                "x": {"datum": 8.5, "type": "quantitative",
                  "axis": {"orient": "bottom", "values": [8.5, 8.55, 8.65, 8.7, 8.75, 8.85, 8.9, 8.95, 9.05, 9.1, 9.15, 9.25, 9.3, 9.35, 9.45, 9.5, 9.55, 9.65, 9.7, 9.75, 9.85, 9.9, 9.95, 10.05, 10.1, 10.15, 10.25, 10.3, 10.35, 10.45, 10.5, 10.55, 10.65, 10.7, 10.75, 10.85, 10.9, 10.95], "tickSize": -2.5, "labels": false, "title": null}},
                "x2": {"datum": 11},
                "y": {"field": "ref", "type": "quantitative",
                  "axis": {"orient": "right", "values": [-5, 0, 5], "tickSize": -5, "labels": false, "title": null}}
              }
            },
            {
              "data": {"name": "binsR"},
              "mark": {"type": "tick", "orient": "horizontal", "size": 6.3, "thickness": 1, "color": "#111111"},
              "encoding": {
                "x": {"field": "m", "type": "quantitative",
                  "axis": {"orient": "top", "values": [8.6, 8.8, 9, 9.2, 9.4, 9.6, 9.8, 10, 10.2, 10.4, 10.6, 10.8], "tickSize": -5, "labels": false, "title": null}},
                "y": {"field": "p", "type": "quantitative", "axis": null}
              }
            },
            {
              "data": {"name": "binsR"},
              "mark": {"type": "point", "filled": true, "size": 9, "color": "black", "opacity": 1},
              "encoding": {
                "x": {"field": "m", "type": "quantitative",
                  "axis": {"orient": "top", "values": [8.5, 8.55, 8.65, 8.7, 8.75, 8.85, 8.9, 8.95, 9.05, 9.1, 9.15, 9.25, 9.3, 9.35, 9.45, 9.5, 9.55, 9.65, 9.7, 9.75, 9.85, 9.9, 9.95, 10.05, 10.1, 10.15, 10.25, 10.3, 10.35, 10.45, 10.5, 10.55, 10.65, 10.7, 10.75, 10.85, 10.9, 10.95], "tickSize": -2.5, "labels": false, "title": null}},
                "y": {"field": "p", "type": "quantitative", "axis": null}
              }
            }
          ],
          "resolve": {"axis": {"x": "independent", "y": "independent"}}
        }
      ],
      "spacing": 0,
      "resolve": {"scale": {"color": "independent", "strokeDash": "independent", "shape": "independent"}}
    }
  ],
  "spacing": 30,
  "resolve": {"scale": {"color": "independent", "strokeDash": "independent", "shape": "independent"}}
}
